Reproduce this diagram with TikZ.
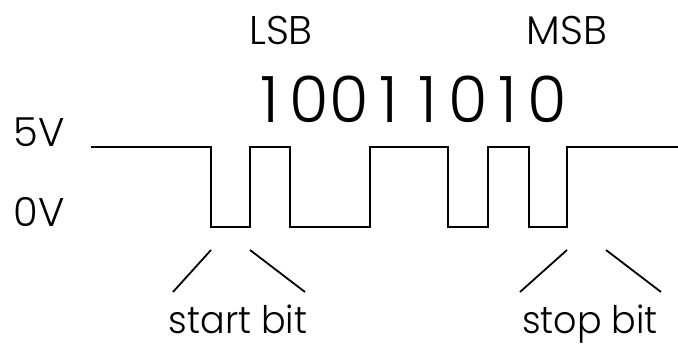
\documentclass[tikz,border=0pt]{standalone}
\usepackage{fontspec}
\setmainfont{Poppins}[UprightFont={* Light}]
\newcommand{\dg}[1]{\makebox[39.6pt]{#1}}
\begin{document}
\begin{tikzpicture}[x=1pt,y=-1pt,
  wave/.style={line width=2.2pt,line join=miter},
  tick/.style={line width=1.8pt},
  lab/.style={inner sep=0pt,anchor=base,font=\fontsize{40}{40}\selectfont},
  big/.style={inner sep=0pt,anchor=base,font=\fontsize{64}{64}\selectfont}]
\useasboundingbox (0,0) rectangle (678,347);
\fill[white] (0,0) rectangle (678,347);
% texts
\node[lab] (v5) at (39,147) {5V};
\node[lab] (v0) at (39,227) {0V};
\node[lab] (lsb) at (281,45) {LSB};
\node[lab] (msb) at (567,45) {MSB};
\node[big] (bits) at (408.5,123) {\dg{1}\dg{0}\dg{0}\dg{1}\dg{1}\dg{0}\dg{1}\dg{0}};
\node[lab,font=\fontsize{38}{38}\selectfont,xscale=0.96] (start) at (238,334) {start bit};
\node[lab,font=\fontsize{38}{38}\selectfont,xscale=0.96] (stop) at (590,334) {stop bit};
% waveform
\draw[wave] (91,147) -- (211,147) -- (211,227) -- (250,227) -- (250,147)
  -- (290,147) -- (290,227) -- (370,227) -- (370,147) -- (448,147)
  -- (448,227) -- (488,227) -- (488,147) -- (529,147) -- (529,227)
  -- (567,227) -- (567,147) -- (678,147);
% ticks
\coordinate (s1a) at (173,292); \coordinate (s1b) at (211,250);
\coordinate (s2a) at (250,250); \coordinate (s2b) at (305,292);
\coordinate (p1a) at (520,292); \coordinate (p1b) at (567,250);
\coordinate (p2a) at (606,250); \coordinate (p2b) at (661,292);
\draw[tick] (s1a) -- (s1b);
\draw[tick] (s2a) -- (s2b);
\draw[tick] (p1a) -- (p1b);
\draw[tick] (p2a) -- (p2b);
\end{tikzpicture}
\end{document}
